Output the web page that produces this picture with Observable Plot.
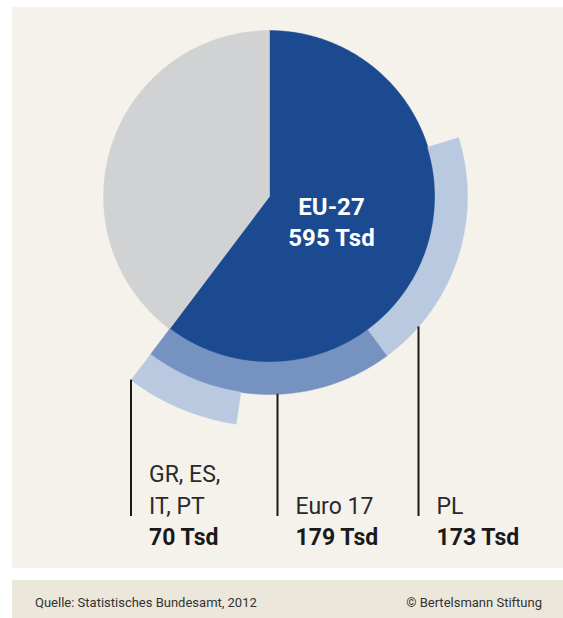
<!DOCTYPE html>
<html><head><meta charset="utf-8">
<script src="https://cdn.jsdelivr.net/npm/d3@7"></script>
<script src="https://cdn.jsdelivr.net/npm/@observablehq/plot@0.6"></script>
<style>
body{margin:0;background:#fff;font-family:Roboto,sans-serif;}
#panel{position:absolute;left:12px;top:7px;width:551px;height:561px;background:#f4f2ea;}
#chart{position:absolute;left:0;top:0;}
#footer{position:absolute;left:12px;top:580px;width:551px;height:38px;background:#ebe7da;font-size:13px;color:#333;}
#footer span{position:absolute;top:15px;line-height:15px;white-space:nowrap;}
</style></head><body>
<div id="panel"></div>
<div id="chart"></div>
<div id="footer"><span style="left:23px">Quelle: Statistisches Bundesamt, 2012</span><span style="right:21px">© Bertelsmann Stiftung</span></div>
<script>
// ---- data ----
const pieNames = ["EU-27", "Nicht-EU"];
const pieValues = [595, 392];
const groupNames = ["Euro 17", "PL", "GR, ES,\nIT, PT"];
const groupValues = [179, 173, 70];
const unit = "Tsd";

// ---- layout / style ----
const W = 563, H = 568;
const cx = 269, cy = 196;
const R0 = 166, R1 = 198, R2 = 230;
const degPerTsd = 0.41;
const colors = {pie: ["#1b4a91", "#d1d2d4"], mid: "#7592c0", light: "#b9c9e0"};
const rad = d => d * Math.PI / 180;

const total = d3.sum(pieValues);
const euEnd = 360 * pieValues[0] / total;

function sector(a0, a1, r0, r1) {
  const pts = [];
  const n = Math.max(2, Math.ceil(Math.abs(a1 - a0) / 0.5));
  for (let i = 0; i <= n; i++) {
    const a = rad(a0 + (a1 - a0) * i / n);
    pts.push({x: cx + r1 * Math.sin(a), y: cy - r1 * Math.cos(a)});
  }
  if (r0 === 0) pts.push({x: cx, y: cy});
  else for (let i = n; i >= 0; i--) {
    const a = rad(a0 + (a1 - a0) * i / n);
    pts.push({x: cx + r0 * Math.sin(a), y: cy - r0 * Math.cos(a)});
  }
  pts.push(pts[0]);
  return pts;
}

// pie slices
const pieShapes = [];
let acc = 0;
pieValues.forEach((v, i) => {
  const a0 = acc, a1 = acc + 360 * v / total;
  acc = a1;
  pieShapes.push({pts: sector(a0, a1, 0, R1 - R0 + R0), fill: colors.pie[i]});
});
pieShapes.forEach((s, i) => { const a0 = i === 0 ? 0 : euEnd, a1 = i === 0 ? euEnd : 360; s.pts = sector(a0, a1, 0, R0); });

// ring arcs
const euroStart = euEnd - degPerTsd * groupValues[0];
const plStart = euroStart - degPerTsd * groupValues[1];
const grStart = euEnd - degPerTsd * groupValues[2];
const ringShapes = [
  {pts: sector(plStart, euroStart, R0 - 0.5, R1), fill: colors.light},
  {pts: sector(euroStart, euEnd, R0 - 0.5, R1), fill: colors.mid},
  {pts: sector(grStart, euEnd, R1 - 0.5, R2), fill: colors.light}
];

// labels with leader lines
const lineDx = [8, 149, -R2 * Math.sin(rad(360 - euEnd))];
const lineR = [R1, R1, R2];
const labels = groupNames.map((name, i) => ({
  name, value: groupValues[i],
  x: cx + lineDx[i],
  y1: cy + Math.sqrt(lineR[i] ** 2 - lineDx[i] ** 2),
  y2: 516
}));

const marks = [];
for (const s of [...pieShapes, ...ringShapes]) {
  marks.push(Plot.line(s.pts, {x: "x", y: "y", fill: s.fill, stroke: s.fill, strokeWidth: 0.4, curve: "linear"}));
}
marks.push(Plot.ruleX(labels, {x: "x", y1: "y1", y2: "y2", stroke: "#1a1a1a", strokeWidth: 2}));
marks.push(Plot.text(labels, {x: d => d.x + 18, y: 513, text: "name", textAnchor: "start", lineAnchor: "bottom",
  fontSize: 23, lineHeight: 32 / 23, fill: "#2a2a2a", fontFamily: "Roboto"}));
marks.push(Plot.text(labels, {x: d => d.x + 18, y: 544, text: d => `${d.value} ${unit}`, textAnchor: "start", lineAnchor: "bottom",
  fontSize: 23, fontWeight: "bold", fill: "#1a1a1a", fontFamily: "Roboto"}));
marks.push(Plot.text([{name: pieNames[0], value: pieValues[0]}], {x: () => cx + 62, y: () => 245, text: d => `${d.name}\n${d.value} ${unit}`,
  textAnchor: "middle", lineAnchor: "bottom", fontSize: 24, lineHeight: 30.5 / 24, fontWeight: "bold", fill: "#fff", fontFamily: "Roboto"}));

const chart = Plot.plot({
  width: W, height: H, margin: 0,
  x: {domain: [0, W], range: [0, W], axis: null},
  y: {domain: [0, H], range: [0, H], axis: null},
  style: {background: "transparent", overflow: "visible"},
  marks
});
document.getElementById("chart").appendChild(chart);
</script>
</body></html>
